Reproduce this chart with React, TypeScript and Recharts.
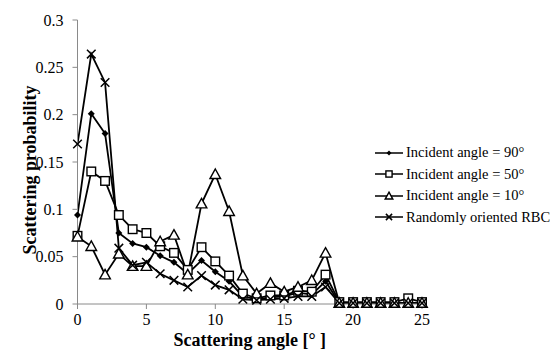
import { LineChart, Line, XAxis, YAxis } from 'recharts';

// Scattering angle in degrees
const angles = [0, 1, 2, 3, 4, 5, 6, 7, 8, 9, 10, 11, 12, 13, 14, 15, 16, 17, 18, 19, 20, 21, 22, 23, 24, 25];

const incident90 = [0.094, 0.201, 0.180, 0.075, 0.064, 0.060, 0.051, 0.044, 0.032, 0.046, 0.034, 0.024, 0.008, 0.005, 0.007, 0.008, 0.012, 0.010, 0.024, 0.001, 0.001, 0.001, 0.001, 0.001, 0.001, 0.001];
const incident50 = [0.072, 0.140, 0.130, 0.094, 0.079, 0.075, 0.061, 0.054, 0.036, 0.060, 0.045, 0.030, 0.011, 0.006, 0.009, 0.009, 0.014, 0.013, 0.031, 0.002, 0.002, 0.002, 0.002, 0.002, 0.006, 0.002];
const incident10 = [0.071, 0.061, 0.031, 0.053, 0.040, 0.040, 0.066, 0.073, 0.031, 0.106, 0.137, 0.098, 0.030, 0.011, 0.022, 0.013, 0.018, 0.025, 0.054, 0.001, 0.001, 0.001, 0.001, 0.001, 0.001, 0.001];
const randomRBC = [0.169, 0.264, 0.234, 0.059, 0.041, 0.044, 0.032, 0.025, 0.018, 0.030, 0.020, 0.015, 0.005, 0.004, 0.005, 0.006, 0.008, 0.008, 0.018, 0.001, 0.001, 0.001, 0.001, 0.001, 0.001, 0.001];

const xTicks = [0, 5, 10, 15, 20, 25];
const yTicks = [0, 0.05, 0.1, 0.15, 0.2, 0.25, 0.3];

const FONT = 'Liberation Serif, Times New Roman, serif';
const AXIS = '#8a8a8a';

type Shape = 'diamond' | 'square' | 'triangle' | 'cross';

const series: { key: string; label: string; shape: Shape }[] = [
  { key: 'a90', label: 'Incident angle = 90°', shape: 'diamond' },
  { key: 'a50', label: 'Incident angle = 50°', shape: 'square' },
  { key: 'a10', label: 'Incident angle = 10°', shape: 'triangle' },
  { key: 'rbc', label: 'Randomly oriented RBC', shape: 'cross' },
];

const data = angles.map((a, i) => ({
  angle: a,
  a90: incident90[i],
  a50: incident50[i],
  a10: incident10[i],
  rbc: randomRBC[i],
}));

function Marker({ shape, cx, cy, s = 1 }: { shape: Shape; cx: number; cy: number; s?: number }) {
  if (shape === 'diamond') {
    const r = 3.5 * s;
    return <path d={`M${cx},${cy - r}L${cx + r},${cy}L${cx},${cy + r}L${cx - r},${cy}Z`} fill="#000" />;
  }
  if (shape === 'square') {
    const h = 4.3 * s;
    return <rect x={cx - h} y={cy - h} width={h * 2} height={h * 2} fill="#fff" stroke="#000" strokeWidth={1.4} />;
  }
  if (shape === 'triangle') {
    const h = 5.3 * s;
    return (
      <path
        d={`M${cx},${cy - h}L${cx + h},${cy + h * 0.8}L${cx - h},${cy + h * 0.8}Z`}
        fill="#fff"
        stroke="#000"
        strokeWidth={1.4}
      />
    );
  }
  const r = 4.3 * s;
  return (
    <path
      d={`M${cx - r},${cy - r}L${cx + r},${cy + r}M${cx - r},${cy + r}L${cx + r},${cy - r}`}
      stroke="#000"
      strokeWidth={1.5}
    />
  );
}

function makeDot(shape: Shape) {
  return (props: any) => {
    const { cx, cy, index } = props;
    if (cx == null || cy == null) return <g key={index} />;
    return (
      <g key={index}>
        <Marker shape={shape} cx={cx} cy={cy} />
      </g>
    );
  };
}

function LegendBox() {
  return (
    <div
      style={{
        position: 'absolute',
        left: 375,
        top: 142,
        fontFamily: FONT,
        fontSize: 14.5,
        color: '#000',
      }}
    >
      {series.map((s) => (
        <div key={s.key} style={{ display: 'flex', alignItems: 'center', height: 21.5 }}>
          <svg width={30} height={14} style={{ marginRight: 1 }}>
            <line x1={0} y1={7} x2={28} y2={7} stroke="#000" strokeWidth={1.5} />
            <Marker shape={s.shape} cx={14} cy={7} s={0.72} />
          </svg>
          <span style={{ whiteSpace: 'nowrap' }}>{s.label}</span>
        </div>
      ))}
    </div>
  );
}

export default function App() {
  return (
    <div style={{ position: 'absolute', left: 0, top: 0, width: 552, height: 352, background: '#fff' }}>
      <LineChart width={552} height={352} data={data} margin={{ top: 20, right: 130, left: 0, bottom: 0 }}>
        <XAxis
          dataKey="angle"
          type="number"
          domain={[0, 25]}
          ticks={xTicks}
          height={48}
          stroke={AXIS}
          tickSize={5}
          tickMargin={5}
          tick={{ fontSize: 16, fill: '#000', fontFamily: FONT }}
          label={{
            content: (p: any) => {
              const vb = p.viewBox;
              return (
                <text
                  x={vb.x + vb.width / 2}
                  y={vb.y + 42}
                  textAnchor="middle"
                  fontFamily={FONT}
                  fontWeight="bold"
                  fontSize={18}
                  fill="#000"
                >
                  Scattering angle [° ]
                </text>
              );
            },
          }}
        />
        <YAxis
          type="number"
          domain={[0, 0.3]}
          ticks={yTicks}
          width={77.5}
          stroke={AXIS}
          tickSize={5}
          tickMargin={9}
          tick={{ fontSize: 16, fill: '#000', fontFamily: FONT }}
          label={{
            content: (p: any) => {
              const vb = p.viewBox;
              const x = 30;
              const y = vb.y + vb.height / 2 + 8;
              return (
                <text
                  x={x}
                  y={y}
                  transform={`rotate(-90, ${x}, ${y})`}
                  textAnchor="middle"
                  dominantBaseline="central"
                  fontFamily={FONT}
                  fontWeight="bold"
                  fontSize={18}
                  fill="#000"
                >
                  Scattering probability
                </text>
              );
            },
          }}
        />
        {series.map((s) => (
          <Line
            key={s.key}
            type="linear"
            dataKey={s.key}
            name={s.label}
            stroke="#000"
            strokeWidth={1.8}
            dot={makeDot(s.shape)}
            activeDot={false}
            isAnimationActive={false}
          />
        ))}
      </LineChart>
      <LegendBox />
    </div>
  );
}
